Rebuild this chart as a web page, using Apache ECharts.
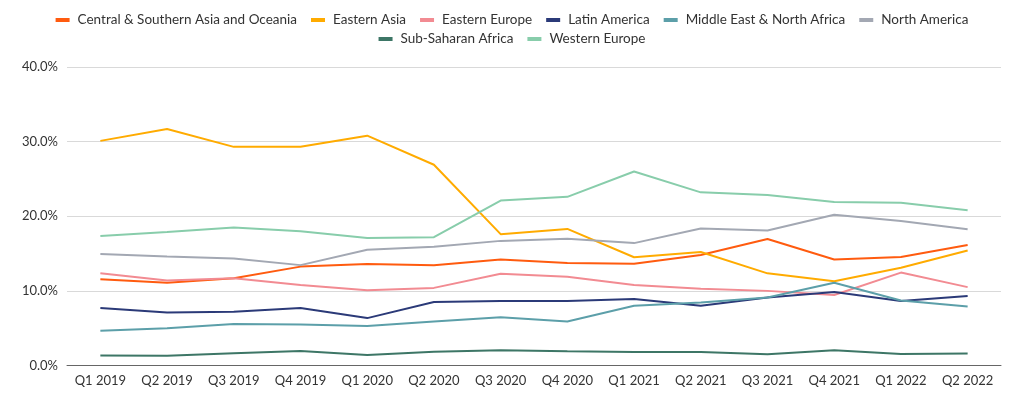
<!DOCTYPE html>
<html>
<head>
<meta charset="utf-8">
<script src="https://cdn.jsdelivr.net/npm/echarts@6/dist/echarts.min.js"></script>
<style>
  html, body { margin: 0; padding: 0; background: #fff; }
  #chart { width: 1024px; height: 396px; }
</style>
</head>
<body>
<div id="chart"></div>
<script>
// 季度
var quarters = ["Q1 2019", "Q2 2019", "Q3 2019", "Q4 2019", "Q1 2020", "Q2 2020", "Q3 2020",
  "Q4 2020", "Q1 2021", "Q2 2021", "Q3 2021", "Q4 2021", "Q1 2022", "Q2 2022"];

// 各地区占比 (%)
var centralSouthernAsia = [11.55, 11.1, 11.7, 13.25, 13.6, 13.45, 14.2, 13.75, 13.65, 14.8, 16.95, 14.2, 14.55, 16.15];
var easternAsia = [30.1, 31.7, 29.3, 29.3, 30.8, 26.9, 17.6, 18.3, 14.5, 15.2, 12.35, 11.3, 13.1, 15.4];
var easternEurope = [12.35, 11.4, 11.7, 10.8, 10.1, 10.4, 12.3, 11.9, 10.8, 10.3, 10.0, 9.45, 12.45, 10.5];
var latinAmerica = [7.7, 7.1, 7.2, 7.7, 6.35, 8.5, 8.65, 8.65, 8.9, 8.0, 9.1, 9.85, 8.65, 9.3];
var middleEastNorthAfrica = [4.65, 5.0, 5.55, 5.5, 5.3, 5.9, 6.45, 5.9, 8.0, 8.45, 9.1, 11.1, 8.7, 7.9];
var northAmerica = [14.95, 14.6, 14.35, 13.45, 15.5, 15.9, 16.7, 17.0, 16.4, 18.35, 18.1, 20.2, 19.35, 18.25];
var subSaharanAfrica = [1.35, 1.3, 1.65, 1.95, 1.4, 1.85, 2.05, 1.9, 1.8, 1.8, 1.5, 2.05, 1.55, 1.6];
var westernEurope = [17.35, 17.9, 18.5, 18.0, 17.1, 17.2, 22.1, 22.6, 26.0, 23.2, 22.85, 21.9, 21.8, 20.8];

var seriesNames = ["Central & Southern Asia and Oceania", "Eastern Asia", "Eastern Europe", "Latin America",
  "Middle East & North Africa", "North America", "Sub-Saharan Africa", "Western Europe"];
var seriesData = [centralSouthernAsia, easternAsia, easternEurope, latinAmerica,
  middleEastNorthAfrica, northAmerica, subSaharanAfrica, westernEurope];
var colors = ["#ff5b0f", "#ffab00", "#f28b92", "#2b3a78", "#5c9fa9", "#a3a8b3", "#3d7666", "#88cdab"];

var fontFamily = "Lato, 'Noto Sans', sans-serif";

// 图例分两行, 各自居中
function makeLegend(top, names) {
  return {
    top: top,
    left: "center",
    icon: "rect",
    itemWidth: 14,
    itemHeight: 4,
    itemGap: 14,
    textStyle: { fontFamily: fontFamily, fontSize: 13.5, color: "#333", padding: [0, 0, 0, 3] },
    data: names
  };
}

var chart = echarts.init(document.getElementById("chart"));
chart.setOption({
  animation: false,
  color: colors,
  legend: [
    makeLegend(8, seriesNames.slice(0, 6)),
    makeLegend(27, seriesNames.slice(6))
  ],
  grid: { left: 67, right: 23, top: 67, bottom: 30.5, containLabel: false },
  xAxis: {
    type: "category",
    data: quarters,
    boundaryGap: true,
    axisLine: { lineStyle: { color: "#666", width: 1 } },
    axisTick: { show: false },
    axisLabel: { fontFamily: fontFamily, fontSize: 13, color: "#333", margin: 9, interval: 0 }
  },
  yAxis: {
    type: "value",
    min: 0,
    max: 40,
    interval: 10,
    axisLine: { show: false },
    axisTick: { show: false },
    splitLine: { lineStyle: { color: "#d9d9d9" } },
    axisLabel: {
      fontFamily: fontFamily, fontSize: 13, color: "#333", margin: 9,
      formatter: function (v) { return v.toFixed(1) + "%"; }
    }
  },
  series: seriesNames.map(function (name, i) {
    return {
      name: name,
      type: "line",
      data: seriesData[i],
      showSymbol: false,
      symbol: "none",
      lineStyle: { width: 2 }
    };
  })
});
</script>
</body>
</html>
